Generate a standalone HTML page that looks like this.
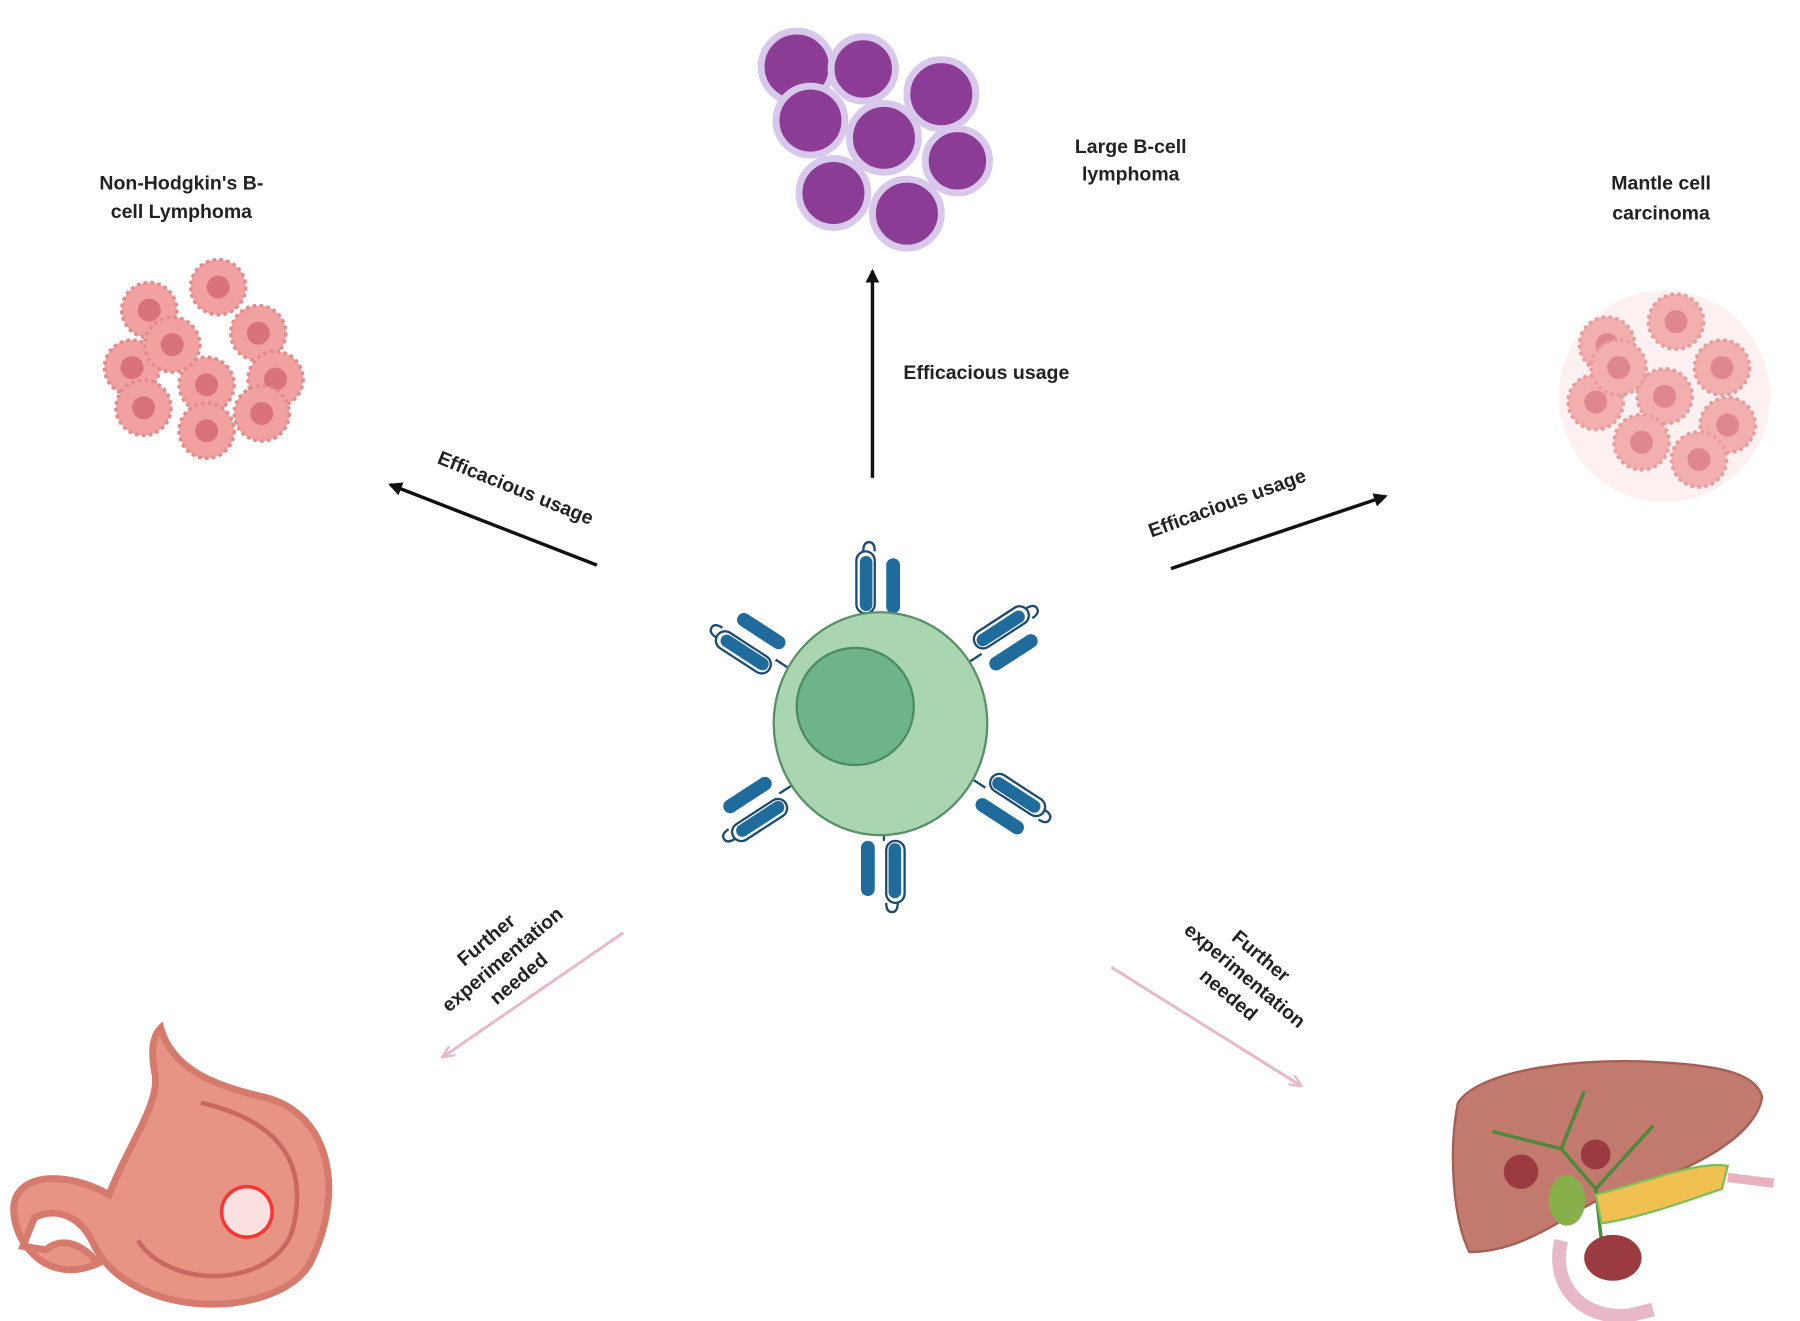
<!DOCTYPE html>
<html><head><meta charset="utf-8"><style>
html,body{margin:0;padding:0;background:#fff;}
svg{display:block}
text{font-family:"Liberation Sans",sans-serif;font-weight:bold;fill:#222;font-size:17px}
</style></head><body>
<svg width="1800" height="1321" viewBox="0 0 1568 1150" preserveAspectRatio="none" xmlns="http://www.w3.org/2000/svg">
<defs>
<marker id="ab" markerWidth="12" markerHeight="12" refX="10" refY="6" orient="auto" markerUnits="userSpaceOnUse"><path d="M0,0 L12,6 L0,12 z" fill="#111"/></marker>
<marker id="ap" markerWidth="12" markerHeight="10" refX="10" refY="5" orient="auto" markerUnits="userSpaceOnUse"><path d="M0,0 L11,5 L0,10" fill="none" stroke="#e8b8c8" stroke-width="2"/></marker>
<g id="ab1">
<rect x="-21" y="-66" width="16" height="54" rx="8" fill="#fff" stroke="#1c4a70" stroke-width="2"/>
<rect x="-18" y="-62" width="11" height="48" rx="5.5" fill="#1f6c9c"/>
<rect x="5" y="-60" width="12" height="48" rx="6" fill="#1f6c9c"/>
<path d="M-15,-66 q0,-8 5,-8 q5,0 5,8 M-3,-12 L-3,0" fill="none" stroke="#1c4a70" stroke-width="2"/>
</g>
<g id="pc"><circle r="24" fill="#f2a1a1" stroke="#e48a8a" stroke-width="3" stroke-dasharray="3 3"/><circle r="10" fill="#d9737a"/></g>
</defs>

<g stroke="#d8c8ec" stroke-width="6" fill="#8b3d96">
<circle cx="694" cy="58" r="31"/><circle cx="752" cy="60" r="28"/><circle cx="820" cy="82" r="30"/>
<circle cx="706" cy="105" r="30"/><circle cx="770" cy="120" r="30"/><circle cx="834" cy="140" r="28"/>
<circle cx="726" cy="168" r="30"/><circle cx="790" cy="186" r="30"/>
</g>
<text x="985" y="133" text-anchor="middle">Large B-cell</text>
<text x="985" y="157" text-anchor="middle">lymphoma</text>
<text x="158" y="165" text-anchor="middle">Non-Hodgkin's B-</text>
<text x="158" y="190" text-anchor="middle">cell Lymphoma</text>
<text x="1447" y="165" text-anchor="middle">Mantle cell</text>
<text x="1447" y="191" text-anchor="middle">carcinoma</text>

<g>
<use href="#pc" x="130" y="270"/><use href="#pc" x="190" y="250"/><use href="#pc" x="225" y="290"/>
<use href="#pc" x="115" y="320"/><use href="#pc" x="180" y="335"/><use href="#pc" x="240" y="330"/>
<use href="#pc" x="125" y="355"/><use href="#pc" x="180" y="375"/><use href="#pc" x="228" y="360"/><use href="#pc" x="150" y="300"/>
</g>
<g opacity="0.85">
<circle cx="1450" cy="345" r="92" fill="#fdeeee"/>
<use href="#pc" x="1400" y="300"/><use href="#pc" x="1460" y="280"/><use href="#pc" x="1500" y="320"/>
<use href="#pc" x="1390" y="350"/><use href="#pc" x="1450" y="345"/><use href="#pc" x="1505" y="370"/>
<use href="#pc" x="1430" y="385"/><use href="#pc" x="1480" y="400"/><use href="#pc" x="1410" y="320"/>
</g>

<line x1="760" y1="416" x2="760" y2="236" stroke="#111" stroke-width="3" marker-end="url(#ab)"/>
<text x="787" y="330">Efficacious usage</text>
<line x1="520" y1="492" x2="340" y2="422" stroke="#111" stroke-width="3" marker-end="url(#ab)"/>
<text transform="translate(380,403) rotate(22)">Efficacious usage</text>
<line x1="1020" y1="495" x2="1207" y2="432" stroke="#111" stroke-width="3" marker-end="url(#ab)"/>
<text transform="translate(1003,468) rotate(-20)">Efficacious usage</text>
<line x1="543" y1="812" x2="386" y2="920" stroke="#e8b8c8" stroke-width="2.5" marker-end="url(#ap)"/>
<line x1="968" y1="842" x2="1133" y2="945" stroke="#e8b8c8" stroke-width="2.5" marker-end="url(#ap)"/>
<g transform="translate(440,838) rotate(-40)" text-anchor="middle">
<text x="0" y="-20">Further</text><text x="0" y="2">experimentation</text><text x="0" y="24">needed</text></g>
<g transform="translate(1082,852) rotate(40)" text-anchor="middle">
<text x="0" y="-20">Further</text><text x="0" y="2">experimentation</text><text x="0" y="24">needed</text></g>

<g transform="translate(767,630)">
<use href="#ab1" transform="translate(0,-84)"/>
<use href="#ab1" transform="rotate(57) translate(0,-95)"/>
<use href="#ab1" transform="rotate(123) translate(0,-95)"/>
<use href="#ab1" transform="rotate(180) translate(0,-90)"/>
<use href="#ab1" transform="rotate(237) translate(0,-95)"/>
<use href="#ab1" transform="rotate(303) translate(0,-95)"/>
<ellipse rx="93" ry="97" fill="#a9d6b1" stroke="#5b8f68" stroke-width="2"/>
<circle cx="-22" cy="-15" r="51" fill="#6db489" stroke="#4e8a63" stroke-width="2"/>
</g>

<g>
<path d="M140,895 C150,930 185,945 230,955 C290,970 300,1040 270,1100 C240,1150 110,1150 80,1080 C70,1060 50,1050 30,1060 L20,1085 L40,1088 C55,1075 75,1085 85,1100 C40,1120 10,1080 12,1050 C15,1020 60,1020 95,1040 C110,1000 140,960 135,935 C130,910 135,900 140,895 Z" fill="#e79484" stroke="#d57a6c" stroke-width="6"/>
<path d="M175,960 C240,975 270,1010 255,1070 C240,1120 150,1125 120,1080" fill="none" stroke="#c9685e" stroke-width="4"/>
<circle cx="215" cy="1055" r="22" fill="#fbe0e0" stroke="#f33" stroke-width="3"/>
</g>

<g>
<path d="M1270,960 C1290,930 1380,920 1450,925 C1500,928 1530,935 1535,955 C1530,990 1470,1020 1430,1030 C1380,1040 1340,1090 1280,1090 C1265,1060 1262,1000 1270,960 Z" fill="#c27a6e" stroke="#a45e54" stroke-width="2"/>
<path d="M1300,985 L1360,1000 L1390,1035 L1440,980 M1360,1000 L1380,950 M1390,1035 L1395,1080" fill="none" stroke="#4b8a3a" stroke-width="3"/>
<circle cx="1325" cy="1020" r="15" fill="#9b3b40"/><circle cx="1390" cy="1005" r="13" fill="#9b3b40"/>
<ellipse cx="1365" cy="1045" rx="16" ry="22" fill="#88b04a"/>
<path d="M1390,1040 C1430,1030 1480,1010 1505,1015 L1500,1035 C1470,1045 1430,1060 1395,1065 Z" fill="#f0c050" stroke="#7bbf5a" stroke-width="2"/>
<path d="M1505,1025 L1545,1030" stroke="#e9b0c0" stroke-width="8"/>
<ellipse cx="1405" cy="1095" rx="25" ry="20" fill="#9b3b40"/>
<path d="M1360,1080 C1350,1120 1380,1150 1420,1145 L1440,1140" fill="none" stroke="#e9b8c8" stroke-width="12"/>
</g>
</svg>
</body></html>
